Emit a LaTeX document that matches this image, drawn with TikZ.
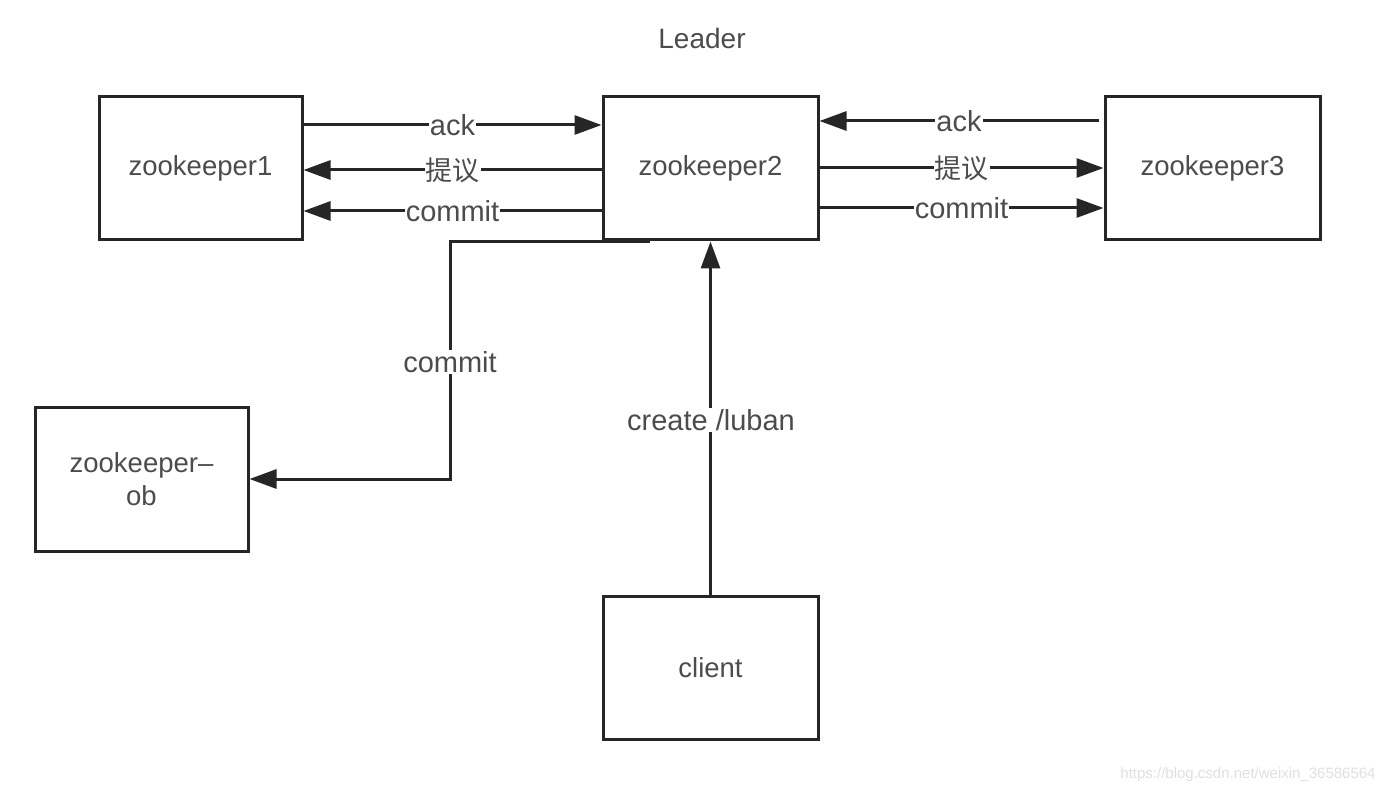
\documentclass[tikz,border=0pt]{standalone}
\usepackage{fontspec}
\setmainfont{Liberation Sans}
\newfontfamily\cjk{Noto Sans CJK SC}
\usetikzlibrary{arrows.meta}
\begin{document}
\begin{tikzpicture}[x=1pt,y=-1pt,
  box/.style={draw=black!85,line width=3pt,inner sep=0pt,font=\fontsize{27.5}{32}\selectfont,text=black!70,align=center},
  conn/.style={draw=black!85,line width=3pt,-{Triangle[length=27pt,width=19pt]}},
  lbl/.style={fill=white,inner sep=1pt,font=\fontsize{29}{32}\selectfont,text=black!70},
  zh/.style={fill=white,inner sep=1pt,font=\cjk\fontsize{27}{30}\selectfont,text=black!70}]
\useasboundingbox (0,0) rectangle (1394,794);
\fill[white] (0,0) rectangle (1394,794);
\node[font=\fontsize{28}{32}\selectfont,text=black!70] (leader) at (702,38) {Leader};
\node[box,minimum width=203pt,minimum height=143pt] (zk1) at (200.5,168.5) {zookeeper1};
\node[box,minimum width=215pt,minimum height=143pt] (zk2) at (710.5,168.5) {zookeeper2};
\node[box,minimum width=215pt,minimum height=143pt] (zk3) at (1212.5,168.5) {zookeeper3};
\node[box,minimum width=213pt,minimum height=144pt,font=\fontsize{27.5}{33}\selectfont] (ob) at (141.5,479) {zookeeper--\\ob};
\node[box,minimum width=215pt,minimum height=143pt] (client) at (710.5,667.5) {client};
% zk1 <-> zk2
\draw[conn] (zk1.east |- 0,125) -- (zk2.west |- 0,125) node[lbl,pos=0.5] {ack};
\draw[conn] (zk2.west |- 0,170) -- (zk1.east |- 0,170) node[zh,pos=0.5] {提议};
\draw[conn] (zk2.west |- 0,211) -- (zk1.east |- 0,211) node[lbl,pos=0.5] {commit};
% zk2 <-> zk3
\draw[conn] ([xshift=-5pt]zk3.west |- 0,121) -- (zk2.east |- 0,121) node[lbl,pos=0.5] {ack};
\draw[conn] (zk2.east |- 0,168) -- (zk3.west |- 0,168) node[zh,pos=0.5] {提议};
\draw[conn] (zk2.east |- 0,208) -- (zk3.west |- 0,208) node[lbl,pos=0.5] {commit};
% to observer
\coordinate (c1) at (650,242);
\draw[conn] (c1) -- (450,242) -- (450,479) -- (ob.east |- 0,479);
\node[lbl] (lc) at (450,362) {commit};
% client
\draw[conn] (client.north) -- (zk2.south);
\node[lbl] (lcr) at (711,420) {create /luban};
\node[font=\fontsize{15}{18}\selectfont,text=black!12] (wm) at (1248,775) {https://blog.csdn.net/weixin\_36586564};
\end{tikzpicture}
\end{document}
